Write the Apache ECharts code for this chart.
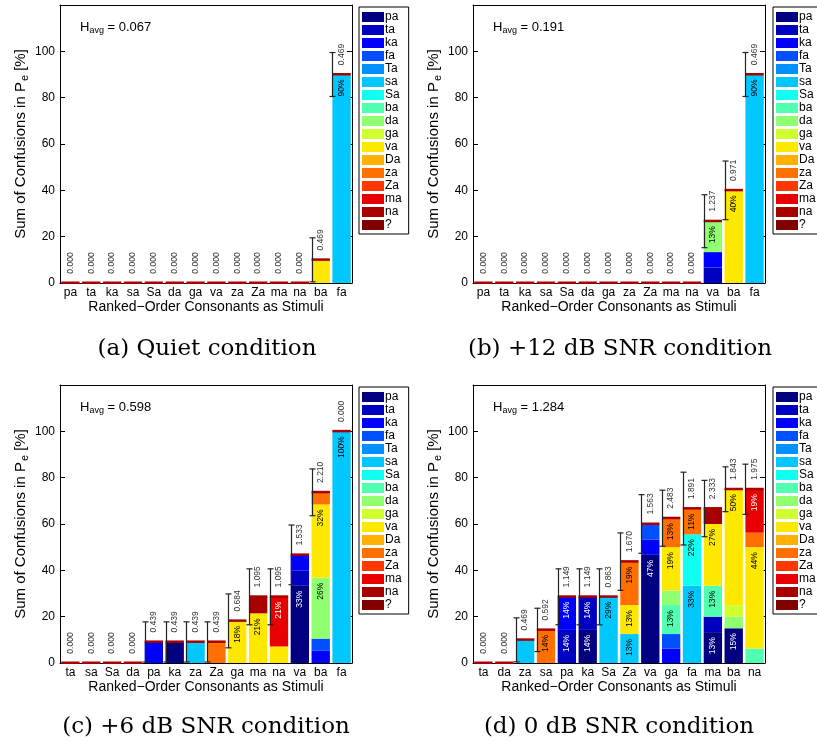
<!DOCTYPE html>
<html>
<head>
<meta charset="utf-8">
<script src="https://cdn.jsdelivr.net/npm/echarts@6/dist/echarts.min.js"></script>
<style>
  html, body { margin: 0; padding: 0; background: #ffffff; overflow: hidden; }
  /* the canvas runs past the right window edge so the right-hand legends are cut off there */
  #chart { width: 840px; height: 742px; }
</style>
</head>
<body>
<div id="chart"></div>
<script>
// Response categories (stack order, bottom to top) and their jet-style colours
const RESPONSES = ['pa','ta','ka','fa','Ta','sa','Sa','ba','da','ga','va','Da','za','Za','ma','na','?'];
const RESPONSE_COLORS = ['#000080','#0000c0','#0000ff','#0050ff','#0090ff','#00c8ff','#10fff0','#50ffb0',
                         '#90ff70','#d0ff30','#ffe800','#ffb000','#ff7000','#ff3800','#e80000','#a80000','#800000'];
const DARK_RESPONSES = ['pa','ta','ka','fa','Za','ma','na','?'];

// (a) Quiet
const quietStimuli = ['pa','ta','ka','sa','Sa','da','ga','va','za','Za','ma','na','ba','fa'];
const quietConfusions = [[],[],[],[],[],[],[],[],[],[],[],[], [['va',10]], [['sa',90]]];
const quietEntropy = ['0.000','0.000','0.000','0.000','0.000','0.000','0.000','0.000','0.000','0.000','0.000','0.000','0.469','0.469'];
const quietStdErr = [0,0,0,0,0,0,0,0,0,0,0,0,9.49,9.49];
const quietHavg = '0.067';

// (b) +12 dB SNR
const snr12Stimuli = ['pa','ta','ka','sa','Sa','da','ga','za','Za','ma','na','va','ba','fa'];
const snr12Confusions = [[],[],[],[],[],[],[],[],[],[],[],
  [['ta',6.67],['ka',6.67],['da',13.33]], [['va',40]], [['sa',90]]];
const snr12Entropy = ['0.000','0.000','0.000','0.000','0.000','0.000','0.000','0.000','0.000','0.000','0.000','1.237','0.971','0.469'];
const snr12StdErr = [0,0,0,0,0,0,0,0,0,0,0,11.42,12.65,9.49];
const snr12Havg = '0.191';

// (c) +6 dB SNR
const snr6Stimuli = ['ta','sa','Sa','da','pa','ka','za','Za','ga','ma','na','va','ba','fa'];
const snr6Confusions = [[],[],[],[],
  [['ka',9.09]], [['pa',9.09]], [['sa',9.09]], [['za',9.09]], [['va',18.18]],
  [['va',21.43],['na',7.14]], [['va',7.14],['ma',21.43]],
  [['pa',33.33],['ta',6.67],['ka',6.67]],
  [['ka',5.26],['fa',5.26],['da',26.32],['va',31.58],['za',5.26]],
  [['sa',100]]];
const snr6Entropy = ['0.000','0.000','0.000','0.000','0.439','0.439','0.439','0.439','0.684','1.095','1.095','1.533','2.210','0.000'];
const snr6StdErr = [0,0,0,0,8.67,8.67,8.67,8.67,11.63,12.07,12.07,12.88,10.10,0];
const snr6Havg = '0.598';

// (d) 0 dB SNR
const snr0Stimuli = ['ta','da','za','sa','pa','ka','Sa','Za','va','ga','fa','ma','ba','na'];
const snr0Confusions = [[],[],
  [['sa',10]], [['za',14.29]], [['ta',14.29],['ka',14.29]], [['pa',14.29],['ta',14.29]],
  [['sa',28.57]], [['sa',12.5],['va',12.5],['za',18.75]],
  [['pa',46.67],['ka',6.67],['fa',6.67]],
  [['ka',6.25],['fa',6.25],['ba',12.5],['da',6.25],['va',18.75],['za',12.5]],
  [['sa',33.33],['Sa',22.22],['za',11.11]],
  [['pa',13.33],['ta',6.67],['ba',13.33],['va',26.67],['na',6.67]],
  [['pa',15],['da',5],['ga',5],['va',50]],
  [['ba',6.25],['va',43.75],['za',6.25],['ma',18.75]]];
const snr0Entropy = ['0.000','0.000','0.469','0.592','1.149','1.149','0.863','1.670','1.563','2.483','1.891','2.333','1.843','1.975'];
const snr0StdErr = [0,0,9.49,9.35,12.07,12.07,12.07,12.4,12.65,12.1,15.71,12.17,9.68,10.83];
const snr0Havg = '1.284';

const Y_TICKS = [0, 20, 40, 60, 80, 100];

const panels = [
  { stimuli: quietStimuli, confusions: quietConfusions, entropy: quietEntropy, err: quietStdErr, havg: quietHavg, caption: '(a) Quiet condition' },
  { stimuli: snr12Stimuli, confusions: snr12Confusions, entropy: snr12Entropy, err: snr12StdErr, havg: snr12Havg, caption: '(b) +12 dB SNR condition' },
  { stimuli: snr6Stimuli, confusions: snr6Confusions, entropy: snr6Entropy, err: snr6StdErr, havg: snr6Havg, caption: '(c) +6 dB SNR condition' },
  { stimuli: snr0Stimuli, confusions: snr0Confusions, entropy: snr0Entropy, err: snr0StdErr, havg: snr0Havg, caption: '(d) 0 dB SNR condition' }
];

// Panel placement
const BOXES = [
  { left: 60,  top: 5,   legendLeft: 359, legendTop: 7,   capX: 207, capY: 349 },
  { left: 473, top: 5,   legendLeft: 773, legendTop: 7,   capX: 620, capY: 349 },
  { left: 60,  top: 385, legendLeft: 359, legendTop: 387, capX: 206, capY: 727 },
  { left: 473, top: 385, legendLeft: 773, legendTop: 387, capX: 619, capY: 727 }
];
const PLOT_W = 292, PLOT_H = 278, BAR_FRAC = 0.88;

const FONT = '"Liberation Sans", Arial, Helvetica, sans-serif';
const SERIF = '"DejaVu Serif", "Liberation Serif", serif';

const grids = [], xAxes = [], yAxes = [], series = [], legends = [], graphics = [];

panels.forEach((p, k) => {
  const B = BOXES[k];
  grids.push({ left: B.left, top: B.top, width: PLOT_W, height: PLOT_H });

  const xIdx = xAxes.length;
  xAxes.push({
    type: 'category', gridIndex: k, data: p.stimuli, position: 'bottom',
    axisLine: { onZero: false, lineStyle: { color: '#000', width: 1 } },
    axisTick: { inside: true, alignWithLabel: true, length: 4, lineStyle: { color: '#000' } },
    axisLabel: { interval: 0, margin: 4, fontSize: 12, color: '#000', fontFamily: FONT },
    name: 'Ranked\u2212Order Consonants as Stimuli', nameLocation: 'middle', nameGap: 16,
    nameTextStyle: { fontSize: 14, color: '#000', fontFamily: FONT }
  });
  xAxes.push({
    type: 'category', gridIndex: k, data: p.stimuli, position: 'top',
    axisLine: { onZero: false, lineStyle: { color: '#000', width: 1 } },
    axisTick: { inside: true, alignWithLabel: true, length: 4, lineStyle: { color: '#000' } },
    axisLabel: { show: false }
  });

  const yIdx = yAxes.length;
  yAxes.push({
    type: 'value', gridIndex: k, min: 0, max: 120, interval: 20, position: 'left',
    axisLine: { show: true, lineStyle: { color: '#000', width: 1 } },
    axisTick: { show: true, inside: true, length: 5, lineStyle: { color: '#000' } },
    splitLine: { show: false },
    axisLabel: { fontSize: 12, color: '#000', margin: 5, fontFamily: FONT,
                 formatter: v => (Y_TICKS.indexOf(v) >= 0 ? String(v) : '') },
    name: 'Sum of Confusions in P{e|e} [%]', nameLocation: 'middle', nameGap: 30, nameRotate: 90,
    nameTextStyle: { fontSize: 15, color: '#000', fontFamily: FONT,
                     rich: { e: { fontSize: 11, fontFamily: FONT, color: '#000', padding: [8, 0, 0, 1] } } }
  });
  yAxes.push({
    type: 'value', gridIndex: k, min: 0, max: 120, interval: 20, position: 'right',
    axisLine: { show: true, lineStyle: { color: '#000', width: 1 } },
    axisTick: { show: true, inside: true, length: 5, lineStyle: { color: '#000' } },
    splitLine: { show: false }, axisLabel: { show: false }
  });

  // stacked confusion bars, one series per response category
  RESPONSES.forEach((resp, r) => {
    const data = p.confusions.map(list => {
      const hit = list.find(e => e[0] === resp);
      return hit ? hit[1] : 0;
    });
    series.push({
      type: 'bar', name: resp, xAxisIndex: xIdx, yAxisIndex: yIdx, stack: 'panel' + k,
      barWidth: (BAR_FRAC * 100) + '%', data,
      itemStyle: { color: RESPONSE_COLORS[r] },
      label: {
        show: true, position: 'insideTop', distance: 5, rotate: 90, align: 'right', verticalAlign: 'middle',
        fontSize: 8.5, fontFamily: FONT, color: DARK_RESPONSES.indexOf(resp) >= 0 ? '#ffffff' : '#000000',
        formatter: d => (d.value > 10.5 ? Math.round(d.value) + '%' : '')
      },
      emphasis: { disabled: true }, animation: false
    });
  });

  // bar-top rule, error bar and entropy label for each stimulus
  const totals = p.confusions.map(list => list.reduce((s, e) => s + e[1], 0));
  const entropy = p.entropy;
  series.push({
    type: 'custom', xAxisIndex: xIdx, yAxisIndex: yIdx, z: 5, silent: true, animation: false, clip: false,
    data: p.stimuli.map((s, i) => [i, totals[i], p.err[i]]),
    renderItem: (params, api) => {
      const i = api.value(0), tot = api.value(1), err = api.value(2);
      const top = api.coord([i, tot]);
      const band = api.size([1, 0])[0];
      const bw = band * BAR_FRAC;
      const kids = [{
        type: 'rect', shape: { x: top[0] - bw / 2, y: top[1] - 1.5, width: bw, height: 2.5 },
        style: { fill: '#a80000' }
      }];
      if (err > 0) {
        const hi = api.coord([i, tot + err]), lo = api.coord([i, tot - err]);
        const ex = Math.round(top[0] - bw / 2) + 0.5;
        const st = { stroke: '#222', lineWidth: 1.2 };
        kids.push({ type: 'line', shape: { x1: ex, y1: hi[1], x2: ex, y2: lo[1] }, style: st });
        kids.push({ type: 'line', shape: { x1: ex - 3, y1: hi[1], x2: ex + 3, y2: hi[1] }, style: st });
        kids.push({ type: 'line', shape: { x1: ex - 3, y1: lo[1], x2: ex + 3, y2: lo[1] }, style: st });
      }
      kids.push({
        type: 'text', x: top[0], y: top[1] - 20, rotation: Math.PI / 2,
        style: { text: entropy[i], fontSize: 8.5, fontFamily: FONT, fill: '#333',
                 align: 'center', verticalAlign: 'middle' }
      });
      return { type: 'group', children: kids };
    }
  });

  legends.push({
    data: RESPONSES, left: B.legendLeft, top: B.legendTop, orient: 'vertical',
    icon: 'rect', itemWidth: 22, itemHeight: 10, itemGap: 1, selectedMode: false,
    padding: [4, 7, 3, 3], borderColor: '#000', borderWidth: 1, backgroundColor: '#fff',
    textStyle: { fontSize: 12, lineHeight: 12, color: '#000', fontFamily: FONT, padding: [0, 0, 0, -4] }
  });

  graphics.push({
    type: 'text', x: B.left + 20, y: B.top + 22,
    style: { text: 'H{s|avg} = ' + p.havg, fontSize: 13, fontFamily: FONT, fill: '#000',
             verticalAlign: 'middle', rich: { s: { fontSize: 9, fontFamily: FONT, padding: [8, 0, 0, 0] } } }
  });
  graphics.push({
    type: 'text', x: B.capX, y: B.capY,
    style: { text: p.caption, fontSize: 23, fontFamily: SERIF, fill: '#000', align: 'center', verticalAlign: 'middle' }
  });
});

const chart = echarts.init(document.getElementById('chart'), null, { renderer: 'canvas' });
chart.setOption({
  animation: false,
  backgroundColor: '#ffffff',
  grid: grids, xAxis: xAxes, yAxis: yAxes, legend: legends, series, graphic: graphics
});
</script>
</body>
</html>
